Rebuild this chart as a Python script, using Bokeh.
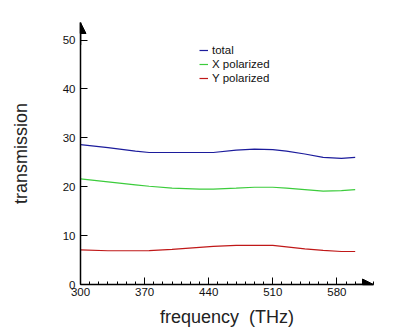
from bokeh.plotting import figure
from bokeh.models import FixedTicker, Arrow, NormalHead, Legend, LegendItem
from bokeh.embed import file_html
from bokeh.resources import INLINE

freq = [300, 330, 360, 375, 400, 430, 445, 470, 490, 510, 525, 545, 565, 585, 600]
total = [28.6, 28.0, 27.3, 27.0, 27.0, 27.0, 27.0, 27.5, 27.7, 27.6, 27.3, 26.7, 26.0, 25.8, 26.0]
x_pol = [21.6, 21.0, 20.4, 20.1, 19.7, 19.5, 19.5, 19.7, 19.9, 19.9, 19.7, 19.4, 19.1, 19.2, 19.4]
y_pol = [7.1, 6.9, 6.9, 6.95, 7.2, 7.6, 7.8, 8.0, 8.0, 8.0, 7.7, 7.3, 7.0, 6.75, 6.75]
series_names = ["total", "X polarized", "Y polarized"]
x_ticks = [300, 370, 440, 510, 580]
x_minor_ticks = list(range(300, 621, 10))
y_ticks = [0, 10, 20, 30, 40, 50]
x_label = "frequency\u00a0\u00a0(THz)"
y_label = "transmission"

FONT = "Liberation Sans"

p = figure(width=396, height=334, output_backend="svg", toolbar_location=None,
           x_range=(300, 620), y_range=(0, 53.6),
           min_border_left=80, min_border_right=23, min_border_top=22, min_border_bottom=50)
p.outline_line_color = None
p.xgrid.grid_line_color = None
p.ygrid.grid_line_color = None
p.background_fill_color = "white"

r1 = p.line(freq, total, line_color="#1c1c9c", line_width=1.2)
r2 = p.line(freq, x_pol, line_color="#3ccc3c", line_width=1.2)
r3 = p.line(freq, y_pol, line_color="#c01818", line_width=1.2)

xa = p.xaxis[0]
xa.ticker = FixedTicker(ticks=x_ticks, minor_ticks=x_minor_ticks)
xa.major_tick_in = 7
xa.major_tick_out = 0
xa.minor_tick_in = 3
xa.minor_tick_out = 0
xa.axis_line_width = 1.5
xa.major_tick_line_width = 1
xa.major_label_text_font = FONT
xa.major_label_text_font_size = "11.5px"
xa.major_label_text_color = "#111111"
xa.major_label_standoff = 3
xa.axis_label = x_label
xa.axis_label_text_font = FONT
xa.axis_label_text_font_style = "normal"
xa.axis_label_text_font_size = "18px"
xa.axis_label_text_color = "#222222"
xa.axis_label_standoff = 8

ya = p.yaxis[0]
ya.ticker = FixedTicker(ticks=y_ticks, minor_ticks=[])
ya.major_tick_in = 7
ya.major_tick_out = 0
ya.minor_tick_line_color = None
ya.axis_line_width = 1.5
ya.major_label_text_font = FONT
ya.major_label_text_font_size = "11.5px"
ya.major_label_text_color = "#111111"
ya.major_label_standoff = 5
ya.axis_label = y_label
ya.axis_label_text_font = FONT
ya.axis_label_text_font_style = "normal"
ya.axis_label_text_font_size = "18px"
ya.axis_label_text_color = "#222222"
ya.axis_label_standoff = 29

# axis arrow heads
p.add_layout(Arrow(x_start=300, y_start=49, x_end=300, y_end=53.6, line_color="black",
                   line_width=1.5, end=NormalHead(size=11, fill_color="black", line_color="black")))
p.add_layout(Arrow(x_start=600, y_start=0, x_end=620, y_end=0, line_color="black",
                   line_width=1.5, end=NormalHead(size=11, fill_color="black", line_color="black")))

legend = Legend(items=[LegendItem(label=series_names[0], renderers=[r1]),
                       LegendItem(label=series_names[1], renderers=[r2]),
                       LegendItem(label=series_names[2], renderers=[r3])],
                location=(119, 199))
legend.border_line_color = None
legend.background_fill_alpha = 0
legend.label_text_font = FONT
legend.label_text_font_size = "11.5px"
legend.label_text_color = "#111111"
legend.glyph_width = 9
legend.glyph_height = 14
legend.label_height = 14
legend.label_standoff = 4
legend.spacing = 0
legend.padding = 2
legend.margin = 0
p.add_layout(legend)

open("out.html", "w").write(file_html(p, INLINE))
